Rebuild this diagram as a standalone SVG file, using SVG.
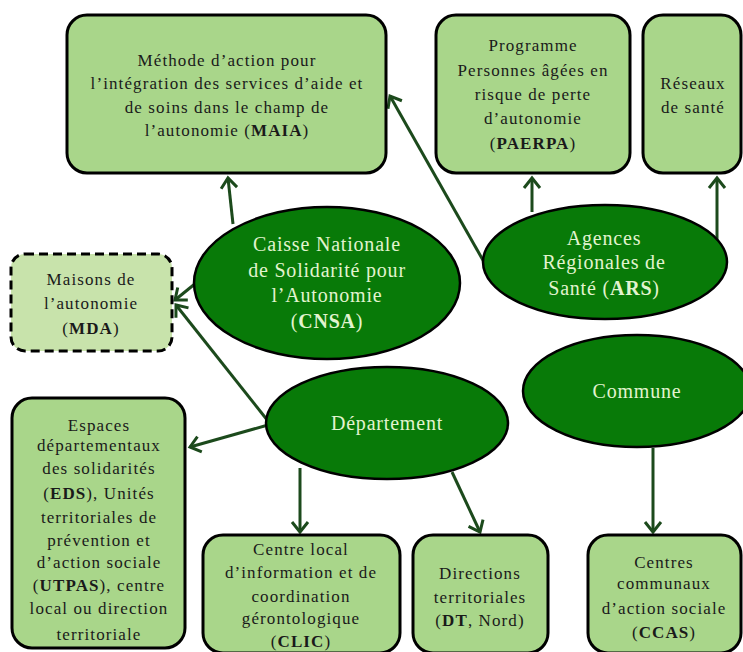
<svg xmlns="http://www.w3.org/2000/svg" width="743" height="652" viewBox="0 0 743 652">
<style>
.box{fill:#a9d68a;stroke:#000;stroke-width:3}
.mda{fill:#c8e3ab;stroke:#000;stroke-width:3;stroke-dasharray:9,5}
.ell{fill:#087a08;stroke:#000;stroke-width:2.5}
.t{font-family:"Liberation Serif","Times New Roman","DejaVu Serif",serif;font-size:17px;letter-spacing:1.1px;fill:#1a1a1a;text-anchor:middle}
.et{font-family:"Liberation Serif","Times New Roman","DejaVu Serif",serif;font-size:20px;letter-spacing:0.8px;fill:#e2f4cf;text-anchor:middle}
.c{stroke:#1c4a1c;stroke-width:3;fill:none;marker-end:url(#ah)}
.b{font-weight:bold}
</style>
<defs>
<marker id="ah" markerUnits="userSpaceOnUse" markerWidth="20" markerHeight="20" viewBox="-12 -10 14 20" refX="0" refY="0" orient="auto">
<path d="M-10,-8 L0,0 L-10,8" fill="none" stroke="#1c4a1c" stroke-width="3"/>
</marker>
</defs>
<rect width="743" height="652" fill="#fff"/>
<g id="connectors">
<line class="c" x1="233" y1="224" x2="228" y2="178"/>
<line class="c" x1="196" y1="283" x2="175" y2="300"/>
<line class="c" x1="484" y1="262" x2="390" y2="96"/>
<line class="c" x1="532" y1="212" x2="532" y2="178"/>
<line class="c" x1="717" y1="242" x2="717" y2="178"/>
<line class="c" x1="268" y1="421" x2="176" y2="305"/>
<line class="c" x1="268" y1="425" x2="190" y2="447"/>
<line class="c" x1="300" y1="468" x2="300" y2="532"/>
<line class="c" x1="452" y1="472" x2="480" y2="532"/>
<line class="c" x1="653" y1="448" x2="653" y2="532"/>
</g>
<g id="maia">
<rect class="box" x="67" y="15" width="319" height="158" rx="20"/>
<text class="t" x="227" y="66">Méthode d’action pour</text>
<text class="t" x="227" y="89">l’intégration des services d’aide et</text>
<text class="t" x="227" y="113">de soins dans le champ de</text>
<text class="t" x="227" y="136">l’autonomie  (<tspan class="b">MAIA</tspan>)</text>
</g>
<g id="paerpa">
<rect class="box" x="436" y="15" width="194" height="158" rx="20"/>
<text class="t" x="533" y="51">Programme</text>
<text class="t" x="533" y="76">Personnes âgées en</text>
<text class="t" x="533" y="100">risque de perte</text>
<text class="t" x="533" y="124">d’autonomie</text>
<text class="t" x="533" y="149">(<tspan class="b">PAERPA</tspan>)</text>
</g>
<g id="reseaux">
<rect class="box" x="643" y="15" width="98" height="158" rx="20"/>
<text class="t" x="693" y="89">Réseaux</text>
<text class="t" x="693" y="113">de santé</text>
</g>
<g id="mda">
<rect class="mda" x="11" y="254" width="161" height="97" rx="14"/>
<text class="t" x="91" y="285">Maisons de</text>
<text class="t" x="91" y="309">l’autonomie</text>
<text class="t" x="91" y="334">(<tspan class="b">MDA</tspan>)</text>
</g>
<g id="cnsa">
<ellipse class="ell" cx="327" cy="283" rx="133" ry="76"/>
<text class="et" x="327" y="251">Caisse Nationale</text>
<text class="et" x="327" y="277">de Solidarité pour</text>
<text class="et" x="327" y="302">l’Autonomie</text>
<text class="et" x="327" y="328">(<tspan class="b">CNSA</tspan>)</text>
</g>
<g id="ars">
<ellipse class="ell" cx="605" cy="262" rx="122" ry="57"/>
<text class="et" x="604" y="245">Agences</text>
<text class="et" x="604" y="269">Régionales de</text>
<text class="et" x="604" y="295">Santé (<tspan class="b">ARS</tspan>)</text>
</g>
<g id="departement">
<ellipse class="ell" cx="387" cy="423" rx="121" ry="56"/>
<text class="et" x="387" y="430">Département</text>
</g>
<g id="commune">
<ellipse class="ell" cx="637" cy="391" rx="114" ry="56"/>
<text class="et" x="637" y="398">Commune</text>
</g>
<g id="eds">
<rect class="box" x="12" y="398" width="173" height="250" rx="20"/>
<text class="t" x="99" y="431">Espaces</text>
<text class="t" x="99" y="451">départementaux</text>
<text class="t" x="99" y="474">des solidarités</text>
<text class="t" x="99" y="499">(<tspan class="b">EDS</tspan>), Unités</text>
<text class="t" x="99" y="523">territoriales de</text>
<text class="t" x="99" y="546">prévention et</text>
<text class="t" x="99" y="568">d’action sociale</text>
<text class="t" x="99" y="591">(<tspan class="b">UTPAS</tspan>), centre</text>
<text class="t" x="99" y="614">local ou direction</text>
<text class="t" x="99" y="640">territoriale</text>
</g>
<g id="clic">
<rect class="box" x="203" y="535" width="197" height="118" rx="20"/>
<text class="t" x="301" y="555">Centre local</text>
<text class="t" x="301" y="578">d’information et de</text>
<text class="t" x="301" y="602">coordination</text>
<text class="t" x="301" y="624">gérontologique</text>
<text class="t" x="301" y="647">(<tspan class="b">CLIC</tspan>)</text>
</g>
<g id="dt">
<rect class="box" x="413" y="535" width="135" height="118" rx="20"/>
<text class="t" x="480" y="579">Directions</text>
<text class="t" x="480" y="603">territoriales</text>
<text class="t" x="480" y="626">(<tspan class="b">DT</tspan>, Nord)</text>
</g>
<g id="ccas">
<rect class="box" x="588" y="535" width="153" height="118" rx="20"/>
<text class="t" x="664" y="568">Centres</text>
<text class="t" x="664" y="589">communaux</text>
<text class="t" x="664" y="614">d’action sociale</text>
<text class="t" x="664" y="638">(<tspan class="b">CCAS</tspan>)</text>
</g>
</svg>
